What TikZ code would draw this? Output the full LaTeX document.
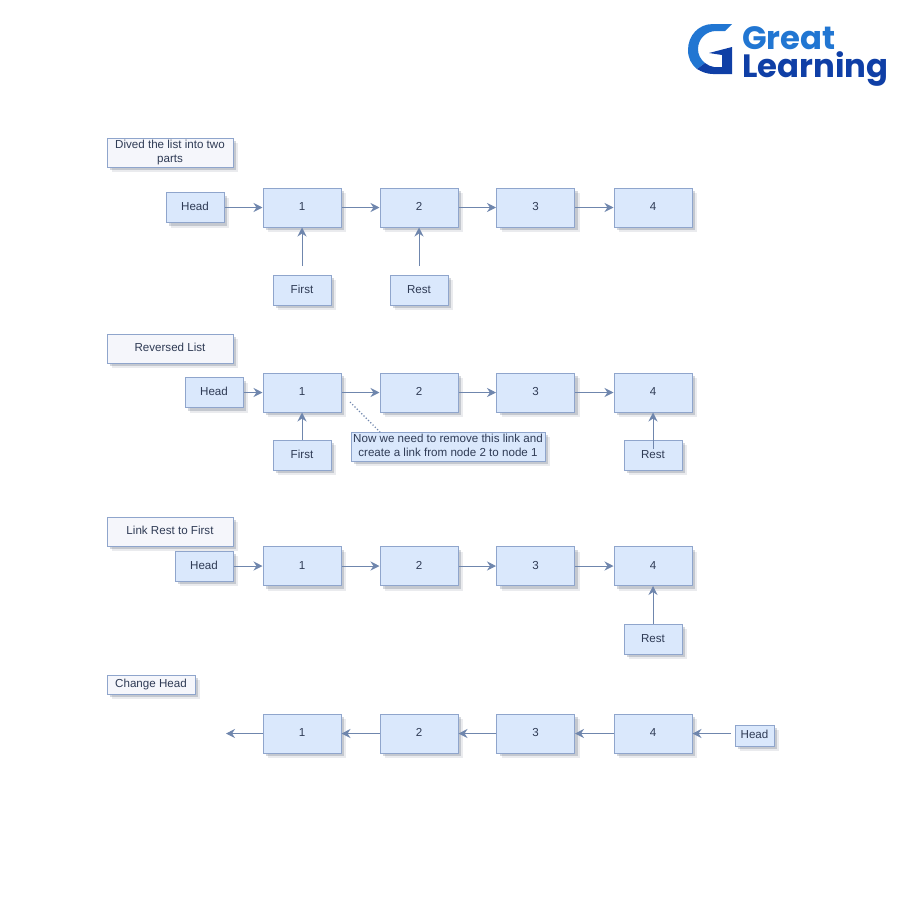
\documentclass[tikz,border=0pt]{standalone}
\usepackage{fontspec}
\setmainfont{Liberation Sans}
\newfontfamily\logofont{Poppins}
\usetikzlibrary{arrows.meta,shadows}
\definecolor{ink}{HTML}{2F3B55}
\definecolor{cellfill}{HTML}{DAE8FC}
\definecolor{cellline}{HTML}{8FA5CC}
\definecolor{linkline}{HTML}{6F86AD}
\definecolor{notefill}{HTML}{F5F6FB}
\definecolor{logolight}{HTML}{2176D2}
\definecolor{logodark}{HTML}{0F3FA6}
\newcommand{\rowstrut}{\rule[-1.7pt]{0pt}{10pt}}
\tikzset{
  boxshadow/.style={
    drop shadow={shadow xshift=5pt,shadow yshift=-5pt,fill=ink,opacity=.10},
    drop shadow={shadow xshift=3pt,shadow yshift=-3pt,fill=ink,opacity=.20}},
  cell/.style={draw=cellline,fill=cellfill,line width=1pt,minimum width=78pt,minimum height=39pt,inner sep=0pt,text=ink,font=\fontsize{11.6}{14}\selectfont,execute at begin node=\rowstrut,execute at end node=\rowstrut,boxshadow},
  ptr/.style={cell,minimum width=58pt,minimum height=30pt},
  title/.style={cell,fill=notefill,minimum width=126pt,minimum height=29pt},
  link/.style={-{Stealth[length=9pt,width=9pt]},draw=linkline,line width=1pt},
  logotext/.style={anchor=base west,inner sep=0pt,font=\logofont\bfseries\fontsize{32.3}{32.3}\selectfont},
}
\begin{document}
\begin{tikzpicture}[x=1pt,y=-1pt]
\useasboundingbox (0,0) rectangle (900,900);
% logo
\fill[logolight] (732,24) -- (713,24) .. controls (698,24) and (688,36) .. (688,50) .. controls (688,58) and (691,64) .. (697,69) -- (705,63) .. controls (700,59) and (698,54) .. (698,49) .. controls (698,39) and (706,31) .. (716,31) -- (725,31) -- cycle;
\fill[logodark] (697,69) .. controls (702,72) and (707,74) .. (713,74) -- (732,74) -- (732,47) -- (709,53) -- (722,55) -- (722,67) -- (714,67) .. controls (711,67) and (708,65) .. (705,63) -- cycle;
\node[logotext,text=logolight] (great) at (742,49.5) {Great};
\node[logotext,text=logodark] (learning) at (742,77.5) {Learning};
% titles
\node[title,align=center] (t1) at (170,152.5) {Dived the list into two\\parts};
\node[title] (t2) at (170,348.5) {Reversed List};
\node[title] (t3) at (170,531.5) {Link Rest to First};
\node[title,minimum width=88pt,minimum height=19pt] (t4) at (151,684.5) {Change Head};
% lists
\foreach \row/\ypos in {a/207.5,b/392.5,c/566,d/733.5}{
  \foreach \val/\xpos in {1/302,2/419,3/535.5,4/653}
    \node[cell] (\row\val) at (\xpos,\ypos) {\val};
}
\foreach \row in {a,b,c}{
  \draw[link] (\row1) -- (\row2);
  \draw[link] (\row2) -- (\row3);
  \draw[link] (\row3) -- (\row4);
}
\draw[link] (d4) -- (d3);
\draw[link] (d3) -- (d2);
\draw[link] (d2) -- (d1);
\coordinate (dend) at (226,733.5);
\draw[link] (d1) -- (dend);
% first list
\node[ptr] (heada) at (195,207.5) {Head};
\node[ptr] (firsta) at (302,290) {First};
\node[ptr] (resta) at (419,290) {Rest};
\coordinate (firstatail) at (302,266);
\coordinate (restatail) at (419,266);
\draw[link] (heada) -- (a1);
\draw[link] (firstatail) -- (a1);
\draw[link] (restatail) -- (a2);
% second list
\node[ptr] (headb) at (214,392.5) {Head};
\node[ptr] (firstb) at (302,455) {First};
\node[ptr] (restb) at (653,455) {Rest};
\node[cell,minimum width=194pt,minimum height=29pt,align=center] (noteb) at (448,446.5) {Now we need to remove this link and\\create a link from node 2 to node 1};
\coordinate (notetail) at (350,402);
\coordinate (notehead) at (380,432);
\coordinate (restbtail) at (653,449);
\draw[link] (headb) -- (b1);
\draw[link] (firstb) -- (b1);
\draw[link] (restbtail) -- (b4);
\draw[draw=linkline,line width=1.2pt,dotted] (notetail) -- (notehead);
% third list
\node[ptr] (headc) at (204,566) {Head};
\node[ptr] (restc) at (653,639) {Rest};
\draw[link] (headc) -- (c1);
\draw[link] (restc) -- (c4);
% last list
\node[ptr,minimum width=39pt,minimum height=21pt] (headd) at (754.5,735.5) {Head};
\coordinate (headdtail) at (731,733.5);
\draw[link] (headdtail) -- (d4);
\end{tikzpicture}
\end{document}
